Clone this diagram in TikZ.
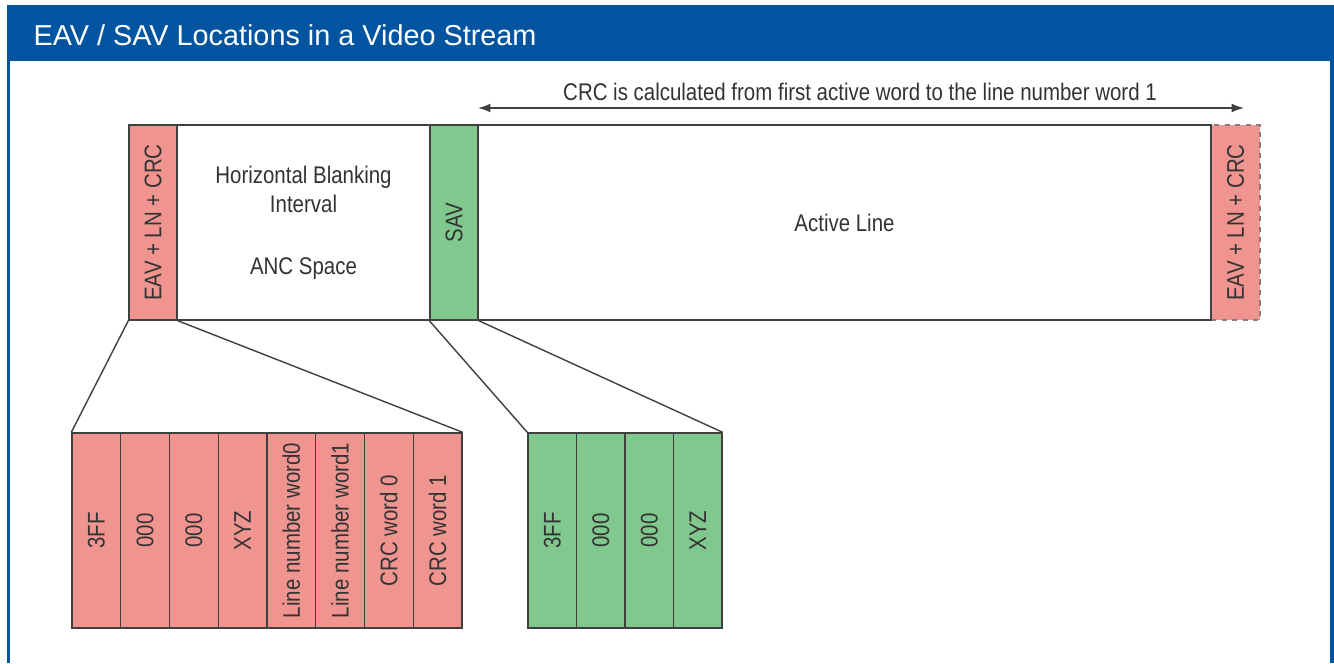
\documentclass[tikz,border=0pt]{standalone}
\usepackage{fontspec}
\setmainfont{Liberation Sans}
\newfontfamily\narrowfont{Liberation Sans}[FakeStretch=0.85]
\usepackage{tikz}
\usetikzlibrary{arrows.meta}

\definecolor{eavred}{RGB}{240,148,144}
\definecolor{savgreen}{RGB}{128,200,142}
\definecolor{frameblue}{RGB}{0,84,160}
\definecolor{linegray}{RGB}{64,64,64}
\definecolor{textgray}{RGB}{51,51,51}
\definecolor{dashgray}{RGB}{150,120,120}

\begin{document}
\begin{tikzpicture}[x=0.02cm,y=-0.02cm,line width=0.8pt]
            \tikzstyle{word}=[draw=linegray,inner sep=0pt,minimum height=3.9cm,text=textgray,font=\narrowfont\fontsize{13.7pt}{16.4pt}\selectfont]
            \tikzstyle{eav}=[word,fill=eavred,minimum width=0.96cm]
            \tikzstyle{sav}=[word,fill=savgreen,minimum width=0.96cm]
            \tikzstyle{space}=[word,fill=white,align=center]
            \tikzstyle{redcell}=[word,fill=eavred,minimum width=0.975cm]
            \tikzstyle{greencell}=[word,fill=savgreen,minimum width=0.97cm]

                \useasboundingbox (0,0) rectangle (1334,663);
                % frame and title bar
                \fill[frameblue] (7,5) rectangle (1334,663);
                \fill[white] (10,61) rectangle (1330,663);
                \node[anchor=west,text=white,font=\fontsize{16.4pt}{19pt}\selectfont] (title) at (27,35) {EAV / SAV Locations in a Video Stream};

                % one video line
                \node[eav,draw=dashgray,dashed,minimum width=0.98cm] (EAV-R) at (1235.5,222.5) {\rotatebox{90}{EAV + LN + CRC}};
                \node[eav] (EAV-L) at (153,222.5) {\rotatebox{90}{EAV + LN + CRC}};
                \node[space,minimum width=5.06cm] (HBI) at (303.5,222.5) {Horizontal Blanking\\Interval\\[0.66cm]ANC Space};
                \node[sav] (SAV) at (454,222.5) {\rotatebox{90}{SAV}};
                \node[space,minimum width=14.66cm] (ACT) at (844.5,222.5) {Active Line};

                % CRC range
                \coordinate (crc-a) at (478,108);
                \coordinate (crc-b) at (1244,108);
                \draw[{Latex[length=7pt,width=5pt]}-{Latex[length=7pt,width=5pt]},draw=linegray] (crc-a) -- (crc-b);
                \node[text=textgray,font=\narrowfont\fontsize{13.7pt}{16.4pt}\selectfont] (crc) at (860,92) {CRC is calculated from first active word to the line number word 1};

                % EAV words
                \foreach \i/\t in {1/3FF, 2/000, 3/000, 4/XYZ, 5/Line number word0, 6/Line number word1, 7/CRC word 0, 8/CRC word 1}
                    \node[redcell] (R-\i) at ({72+48.75*(\i-0.5)},530.5) {\rotatebox{90}{\t}};

                % SAV words
                \foreach \i/\t in {1/3FF, 2/000, 3/000, 4/XYZ}
                    \node[greencell] (G-\i) at ({528+48.5*(\i-0.5)},530.5) {\rotatebox{90}{\t}};

                \draw[linegray] (EAV-L.south west) -- (R-1.north west);
                \draw[linegray] (EAV-L.south east) -- (R-8.north east);
                \draw[linegray] (SAV.south west) -- (G-1.north west);
                \draw[linegray] (SAV.south east) -- (G-4.north east);
        \end{tikzpicture}
\end{document}
